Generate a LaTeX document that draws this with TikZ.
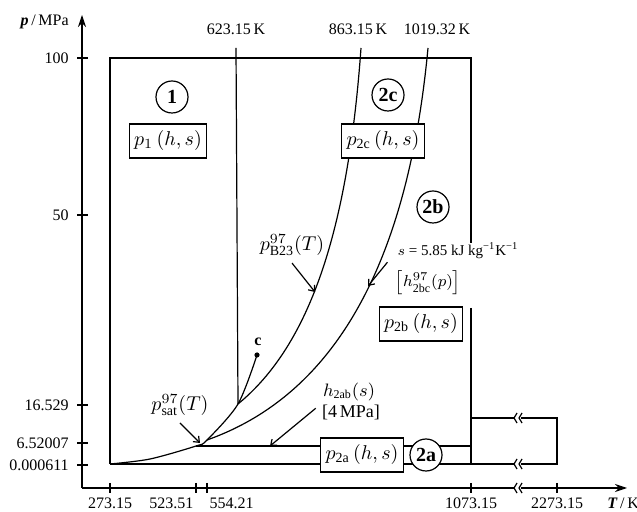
\documentclass[tikz,border=0pt]{standalone}
\usepackage{fontspec}
\setmainfont{Liberation Serif}
\usetikzlibrary{arrows.meta}

\tikzset{
	zone/.style={circle, draw, fill=white, minimum size=16pt, inner sep=0pt, font=\normalsize\bfseries},
	eqbox/.style={draw, fill=white, inner xsep=2.5pt, inner ysep=1pt, minimum height=17pt, font=\normalsize},
	ptr/.style={-{Straight Barb[length=2.5pt,width=4pt]}},
	axtip/.style={-{Stealth[length=6pt,width=4pt]}},
}

\begin{document}
\begin{tikzpicture}[x=0.5pt,y=-0.5pt,line width=0.6pt,font=\footnotesize]
	\useasboundingbox (0,0) rectangle (637,512);
	% axes
	\coordinate (o) at (82,488);
	\draw[axtip] (o) -- (82,15) coordinate (ytop);
	\draw[axtip] (o) -- (627,488) coordinate (xend);
	\node[anchor=east] (ylab) at (76,22) {\textbf{\textit{p}}\,/\,MPa};
	\node[anchor=west] (xlab) at (600,503) {\textbf{\textit{T}}\,/\,K};
	\foreach \yv/\lab in {58/100, 215/50, 405/16.529, 443/6.52007, 465/0.000611}{
		\draw (77,\yv) -- (88,\yv);
		\node[anchor=east] (yl\yv) at (76,\yv) {\lab};
	}
	\foreach \xv/\lab/\anc in {110/273.15/north, 196/523.51/north east, 207/554.21/north west, 471/1073.15/north, 557/2273.15/north}{
		\draw (\xv,483) -- (\xv,493);
		\node[anchor=\anc, inner sep=1pt] (xl\xv) at (\xv,495) {\lab};
	}
	% region boundaries
	\coordinate (bl) at (110,464);
	\coordinate (tl) at (110,58);
	\coordinate (tr) at (471,58);
	\coordinate (br) at (471,464);
	\coordinate (a4) at (196,446);
	\coordinate (b65) at (207,440);
	\coordinate (b165) at (238,404);
	\coordinate (c) at (257,355);
	\draw (bl) -- (tl) -- (tr) -- (471,243);
	\draw (471,308) -- (br);
	\draw (bl) -- (557,464) -- (557,418) -- (471,418);
	\draw (a4) -- (br |- a4);
	\draw (236,48) -- (b165);
	\draw plot[smooth] coordinates {(bl) (150,459) (a4) (b65) (b165) (c)};
	\draw (b165) .. controls (310,345) and (348,230) .. (361,48);
	\draw (b65) .. controls (348,390) and (410,240) .. (428,48);
	\fill (c) circle[radius=1.3pt];
	% breaks
	\foreach \yb in {418,464,488}{
		\fill[white] (515,\yb-5) rectangle (521,\yb+5);
		\draw (517,\yb-5) -- (514,\yb) -- (517,\yb+5);
		\draw (522,\yb-5) -- (519,\yb) -- (522,\yb+5);
	}
	% temperatures on top
	\node[anchor=south] (t623) at (236,42) {623.15\,K};
	\node[anchor=south] (t863) at (358,42) {863.15\,K};
	\node[anchor=south] (t1019) at (437,42) {1019.32\,K};
	% regions
	\node[zone] (z1) at (172,97) {1};
	\node[eqbox] (f1) at (168,141) {$p_{1}\,(h,s)$};
	\node[zone] (z2c) at (388,95) {2c};
	\node[eqbox] (f2c) at (383,141) {$p_{\mathrm{2c}}\,(h,s)$};
	\node[zone] (z2b) at (433,207) {2b};
	\node[anchor=west, inner sep=1pt, font=\fontsize{7.5}{9}\selectfont] (ls) at (395,251) {$s$ = 5.85 kJ kg\textsuperscript{−1}K\textsuperscript{−1}};
	\node (lh2bc) at (428,282) {$\bigl[h^{97}_{\mathrm{2bc}}(p)\bigr]$};
	\node[eqbox] (f2b) at (421,324) {$p_{\mathrm{2b}}\,(h,s)$};
	\node[eqbox] (f2a) at (362,455) {$p_{\mathrm{2a}}\,(h,s)$};
	\node[zone] (z2a) at (426,455) {2a};
	% boundary labels
	\node[font=\normalsize] (lB23) at (292,245) {$p^{97}_{\mathrm{B23}}(T)$};
	\node[font=\normalsize] (lsat) at (180,405) {$p^{97}_{\mathrm{sat}}(T)$};
	\node[font=\small] (lh2ab) at (349,392) {$h_{\mathrm{2ab}}(s)$};
	\node[font=\small] (l4) at (351,412) {[4\,MPa]};
	\node[font=\footnotesize\bfseries] (lc) at (258,342) {c};
	\coordinate (pB23) at (315,292);
	\coordinate (p2bc) at (368,286);
	\coordinate (psat) at (200,443);
	\coordinate (p2ab) at (270,446);
	\draw[ptr] (lB23.south) -- (pB23);
	\draw[ptr] (lh2bc.north west) -- (p2bc);
	\draw[ptr] (lsat.south) -- (psat);
	\draw[ptr] (lh2ab.south west) -- (p2ab);
\end{tikzpicture}
\end{document}
